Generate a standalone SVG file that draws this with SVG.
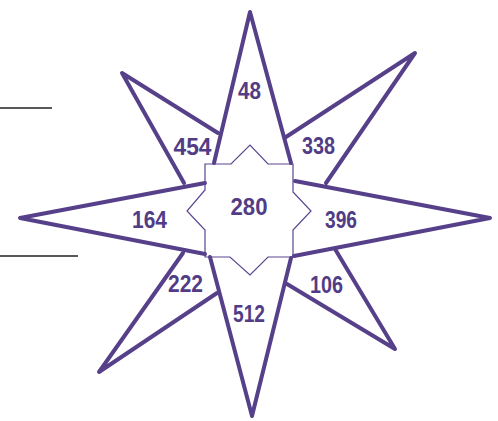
<svg xmlns="http://www.w3.org/2000/svg" width="498" height="421" viewBox="0 0 498 421">
<style>
.s{fill:none;stroke:#56408a;stroke-width:4;stroke-linecap:round;stroke-linejoin:round}
.c{fill:none;stroke:#5a4590;stroke-width:1.2}
.t{font-family:"Liberation Sans",Arial,sans-serif;font-weight:bold;font-size:24px;fill:#523c86;text-anchor:middle}
.k{stroke:#222;stroke-width:1.5}
</style>
<rect width="498" height="421" fill="#fff"/>
<g id="guides">
<line class="k" x1="0" y1="108" x2="52" y2="108"/>
<line class="k" x1="0" y1="256" x2="78" y2="256"/>
</g>
<g id="connectors">
<polyline id="spike-n" class="s" points="214,163 250,12 291,163"/>
<polyline id="spike-ne" class="s" points="286,137 415,53 326,183"/>
<polyline id="spike-e" class="s" points="295,181 490,218 294,256"/>
<polyline id="spike-se" class="s" points="335,249 395,349 287,284"/>
<polyline id="spike-s" class="s" points="291,258 252,416 210,257"/>
<polyline id="spike-sw" class="s" points="217,293 99,372 183,253"/>
<polyline id="spike-w" class="s" points="205,254 20,218 205,183"/>
<polyline id="spike-nw" class="s" points="184,183 122,73 218,133"/>
</g>
<g id="center">
<polygon class="c" points="205,164 231,164 250,145 268,164 293,164 293,192 311,211 293,230 293,257 268,257 250,275 230,257 205,257 205,230 187,211 205,190"/>
<text class="t" x="249" y="215" textLength="37" lengthAdjust="spacingAndGlyphs">280</text>
</g>
<g id="n48"><text class="t" x="249.5" y="99" textLength="23" lengthAdjust="spacingAndGlyphs">48</text></g>
<g id="n454"><text class="t" x="192.5" y="155" textLength="38" lengthAdjust="spacingAndGlyphs">454</text></g>
<g id="n338"><text class="t" x="318.5" y="154" textLength="33" lengthAdjust="spacingAndGlyphs">338</text></g>
<g id="n164"><text class="t" x="149.5" y="228" textLength="35" lengthAdjust="spacingAndGlyphs">164</text></g>
<g id="n396"><text class="t" x="341" y="228" textLength="32" lengthAdjust="spacingAndGlyphs">396</text></g>
<g id="n222"><text class="t" x="185.5" y="292" textLength="35" lengthAdjust="spacingAndGlyphs">222</text></g>
<g id="n106"><text class="t" x="326.5" y="293" textLength="33" lengthAdjust="spacingAndGlyphs">106</text></g>
<g id="n512"><text class="t" x="249" y="322" textLength="32" lengthAdjust="spacingAndGlyphs">512</text></g>
</svg>
